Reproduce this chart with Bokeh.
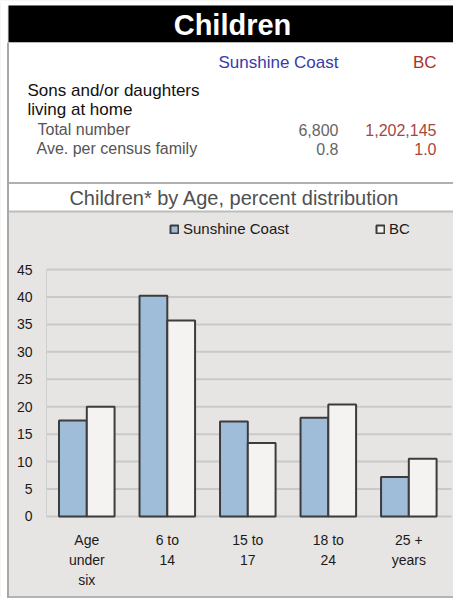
from bokeh.plotting import figure
from bokeh.models import Range1d, FixedTicker, LinearAxis
from bokeh.core.properties import value
from bokeh.embed import file_html
from bokeh.resources import INLINE

# ---------------- data ----------------
title_text = "Children"
regions = ["Sunshine Coast", "BC"]
section_label = ["Sons and/or daughters", "living at home"]
table_rows = ["Total number", "Ave. per census family"]
sc_table = ["6,800", "0.8"]
bc_table = ["1,202,145", "1.0"]
chart_title = "Children* by Age, percent distribution"
age_groups = ["Age\nunder\nsix", "6 to\n14", "15 to\n17", "18 to\n24", "25 +\nyears"]
sc_pct = [17.5, 40.2, 17.3, 18.0, 7.2]
bc_pct = [20.0, 35.7, 13.4, 20.4, 10.5]
y_ticks = [0, 5, 10, 15, 20, 25, 30, 35, 40, 45]

FONT = value("Liberation Sans")
W, H = 453, 598
BG = "#e7e5e4"

# category positions 1..n on a numeric scale
cat_pos = list(range(1, len(age_groups) + 1))
sc_x = [c - 0.1725 for c in cat_pos]
bc_x = [c + 0.1725 for c in cat_pos]

p = figure(width=W, height=H, x_range=Range1d(-0.072, 5.555), y_range=Range1d(-14.94, 94.01),
           output_backend="svg", toolbar_location=None, min_border=0,
           x_axis_location=None, y_axis_location=None)
p.background_fill_color = BG
p.border_fill_color = BG
p.outline_line_color = None
p.grid.visible = False
p.extra_x_ranges = {"px": Range1d(0, W)}
p.extra_y_ranges = {"px": Range1d(H, 0)}
PX = dict(x_range_name="px", y_range_name="px")

# ---------------- page frame, header and table panel ----------------
p.quad(left=[0, 0, 8, 8], right=[7, W, W, W], top=[0, 0, 5, 42], bottom=[H, 5, 42, 211],
       fill_color=["white", "white", "black", "white"], line_color=None, **PX)
p.segment(x0=[8, 8, 8, 7.5], y0=[182.5, 211, 596.5, 42], x1=[W, W, W, 7.5], y1=[182.5, 211, 596.5, H],
          line_color=["#b0b0b0", "#bdbdbd", "#b4b4b4", "#a8a8a8"], line_width=[2, 2, 2, 2], **PX)

p.text(x=[232], y=[24], text=[title_text], text_font=FONT, text_font_size="29px",
       text_font_style="bold", text_color="white", text_align="center", text_baseline="middle", **PX)
p.text(x=[338], y=[62], text=[regions[0]], text_font=FONT, text_font_size="17px",
       text_color="#3a3aa8", text_align="right", text_baseline="middle", **PX)
p.text(x=[436], y=[62], text=[regions[1]], text_font=FONT, text_font_size="17px",
       text_color="#a8332b", text_align="right", text_baseline="middle", **PX)
p.text(x=[27, 27], y=[90, 109], text=section_label, text_font=FONT, text_font_size="17px",
       text_color="#111111", text_align="left", text_baseline="middle", **PX)
p.text(x=[37, 36], y=[129, 148], text=table_rows, text_font=FONT, text_font_size="16px",
       text_color="#555555", text_align="left", text_baseline="middle", **PX)
p.text(x=[338, 338], y=[129, 148], text=sc_table, text_font=FONT, text_font_size="16px",
       text_color="#666666", text_align="right", text_baseline="middle", **PX)
p.text(x=[436, 436], y=[129, 148], text=bc_table, text_font=FONT, text_font_size="16px",
       text_color="#a8463c", text_align="right", text_baseline="middle", **PX)
p.text(x=[234], y=[197], text=[chart_title], text_font=FONT, text_font_size="20px",
       text_color="#505050", text_align="center", text_baseline="middle", **PX)

# ---------------- bar chart ----------------
p.segment(x0=[0.5] * len(y_ticks), y0=y_ticks, x1=[5.53] * len(y_ticks), y1=y_ticks,
          line_color="#c9c9c9", line_width=2)

p.vbar(x=sc_x, top=sc_pct, bottom=0, width=0.345,
       fill_color="#9fbcd9", line_color="#3c3c3c", line_width=2, legend_label=regions[0])
p.vbar(x=bc_x, top=bc_pct, bottom=0, width=0.345,
       fill_color="#f4f3f1", line_color="#3c3c3c", line_width=2, legend_label=regions[1])

yaxis = LinearAxis(fixed_location=0.5, bounds=(0, 45), ticker=FixedTicker(ticks=y_ticks))
yaxis.axis_line_color = "#cfcfcf"
yaxis.major_tick_line_color = None
yaxis.minor_tick_line_color = None
yaxis.major_label_standoff = 8
yaxis.major_label_text_font = "Liberation Sans"
yaxis.major_label_text_font_size = "14px"
yaxis.major_label_text_color = "#1a1a1a"
p.add_layout(yaxis, "left")

xaxis = LinearAxis(fixed_location=0, bounds=(0.5, 5.5), ticker=FixedTicker(ticks=cat_pos),
                   major_label_overrides={c: g for c, g in zip(cat_pos, age_groups)})
xaxis.axis_line_color = None
xaxis.major_tick_line_color = None
xaxis.minor_tick_line_color = None
xaxis.major_label_standoff = 10
xaxis.major_label_text_font = "Liberation Sans"
xaxis.major_label_text_font_size = "14px"
xaxis.major_label_text_color = "#1a1a1a"
xaxis.major_label_text_line_height = 1.25
p.add_layout(xaxis, "below")

lg = p.legend[0]
lg.orientation = "horizontal"
lg.location = (169, 361)
lg.background_fill_alpha = 0
lg.border_line_color = None
lg.label_text_font = "Liberation Sans"
lg.label_text_font_size = "15px"
lg.label_text_color = "#1a1a1a"
lg.glyph_width = 10
lg.glyph_height = 10
lg.label_height = 14
lg.label_standoff = 4
lg.spacing = 86
lg.padding = 0
lg.margin = 0

open("out.html", "w").write(file_html(p, INLINE))
